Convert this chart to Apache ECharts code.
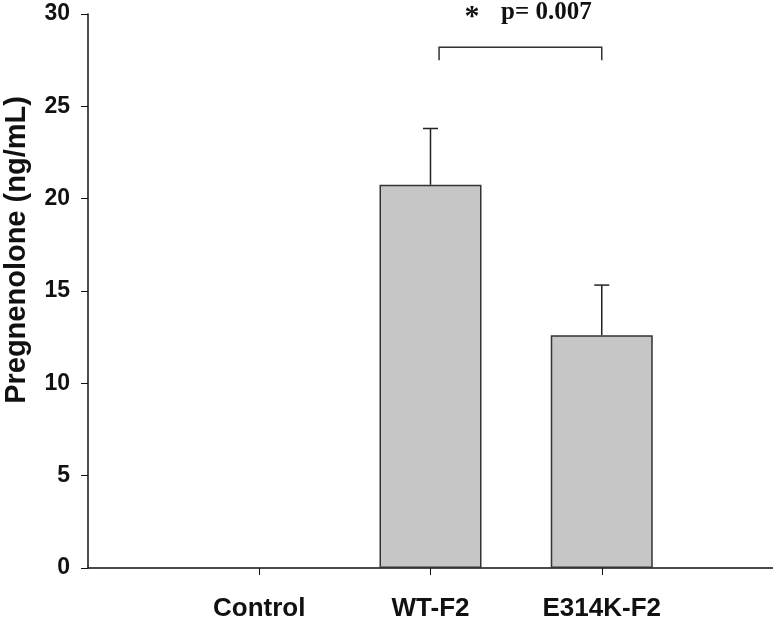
<!DOCTYPE html>
<html>
<head>
<meta charset="utf-8">
<script src="https://cdn.jsdelivr.net/npm/echarts@6/dist/echarts.min.js"></script>
<style>
html,body{margin:0;padding:0;background:#fff;}
#chart{width:773px;height:621px;}
</style>
</head>
<body>
<div id="chart"></div>
<script>
// Data
const categories = ['Control', 'WT-F2', 'E314K-F2'];
const categoryPositions = [1, 2, 3];
const means = [0, 20.75, 12.6];
const errors = [0, 3.05, 2.72];
const yTicks = [0, 5, 10, 15, 20, 25, 30];
const yTitle = 'Pregnenolone (ng/mL)';
const sigFrom = 2.05;
const sigTo = 3.0;
const sigLevel = 28.2;
const sigDrop = 0.7;
const sigStar = '*';
const sigText = 'p= 0.007';

const chart = echarts.init(document.getElementById('chart'));
const sans = 'Liberation Sans, Arial, sans-serif';
const serif = 'Liberation Serif, Times New Roman, serif';

const barData = categoryPositions.map((x, i) => ({
  value: [x, means[i]],
  itemStyle: means[i] === 0 ? { borderWidth: 0 } : undefined
}));
const errData = categoryPositions.map((x, i) => [x, means[i], means[i] + errors[i]]);

chart.setOption({
  animation: false,
  backgroundColor: '#fff',
  grid: { left: 88, right: 0, top: 14, bottom: 53, containLabel: false, outerBoundsMode: 'none' },
  graphic: [{
    type: 'text', x: 17, y: 250, rotation: Math.PI / 2,
    style: { text: yTitle, font: 'bold 29px ' + sans, fill: '#111', textAlign: 'center', textVerticalAlign: 'middle' }
  }],
  xAxis: {
    type: 'value', min: 0, max: 4, interval: 1,
    splitLine: { show: false },
    axisLine: { show: true, onZero: false, lineStyle: { color: '#111', width: 1.5 } },
    axisTick: { show: true, length: 7, inside: false, customValues: categoryPositions, lineStyle: { color: '#111', width: 1 } },
    axisLabel: {
      customValues: categoryPositions,
      formatter: v => categories[categoryPositions.indexOf(v)] || '',
      fontFamily: sans, fontWeight: 'bold', fontSize: 26, color: '#111', margin: 28
    }
  },
  yAxis: {
    type: 'value', min: 0, max: 30, interval: 5,
    splitLine: { show: false },
    axisLine: { show: true, lineStyle: { color: '#111', width: 1.5 } },
    axisTick: { show: true, length: 7, inside: false, lineStyle: { color: '#111', width: 1 } },
    axisLabel: {
      customValues: yTicks,
      fontFamily: sans, fontWeight: 'bold', fontSize: 23, color: '#111', margin: 18
    }
  },
  series: [
    {
      type: 'bar', data: barData, barWidth: 102,
      itemStyle: { color: '#c6c6c6', borderColor: '#333', borderWidth: 1.5 },
      z: 2
    },
    {
      type: 'custom', data: errData, z: 3,
      renderItem: function (params, api) {
        const x = api.value(0), lo = api.value(1), hi = api.value(2);
        if (hi <= lo) return null;
        const p0 = api.coord([x, lo]);
        const p1 = api.coord([x, hi]);
        const hw = 7.5;
        return {
          type: 'group',
          children: [
            { type: 'line', shape: { x1: p0[0], y1: p0[1], x2: p1[0], y2: p1[1] }, style: { stroke: '#222', lineWidth: 1.5 } },
            { type: 'line', shape: { x1: p1[0] - hw, y1: p1[1], x2: p1[0] + hw, y2: p1[1] }, style: { stroke: '#222', lineWidth: 1.5 } }
          ]
        };
      }
    },
    {
      type: 'custom', data: [[sigFrom, sigTo, sigLevel, sigDrop]], z: 4,
      renderItem: function (params, api) {
        const a = api.value(0), b = api.value(1), y = api.value(2), d = api.value(3);
        const pa = api.coord([a, y]), pb = api.coord([b, y]);
        const pa2 = api.coord([a, y - d]), pb2 = api.coord([b, y - d]);
        return {
          type: 'group',
          children: [
            { type: 'polyline', shape: { points: [[pa2[0], pa2[1]], [pa[0], pa[1]], [pb[0], pb[1]], [pb2[0], pb2[1]]] },
              style: { stroke: '#333', lineWidth: 1.5, fill: null } },
            { type: 'text', x: pa[0] + 33, y: pa[1] - 30,
              style: { text: sigStar, font: 'bold 30px ' + serif, fill: '#111', textAlign: 'center', textVerticalAlign: 'middle' } },
            { type: 'text', x: pa[0] + 62, y: pa[1] - 35,
              style: { text: sigText, font: 'bold 25px ' + serif, fill: '#111', textAlign: 'left', textVerticalAlign: 'middle' } }
          ]
        };
      }
    }
  ]
});
</script>
</body>
</html>
